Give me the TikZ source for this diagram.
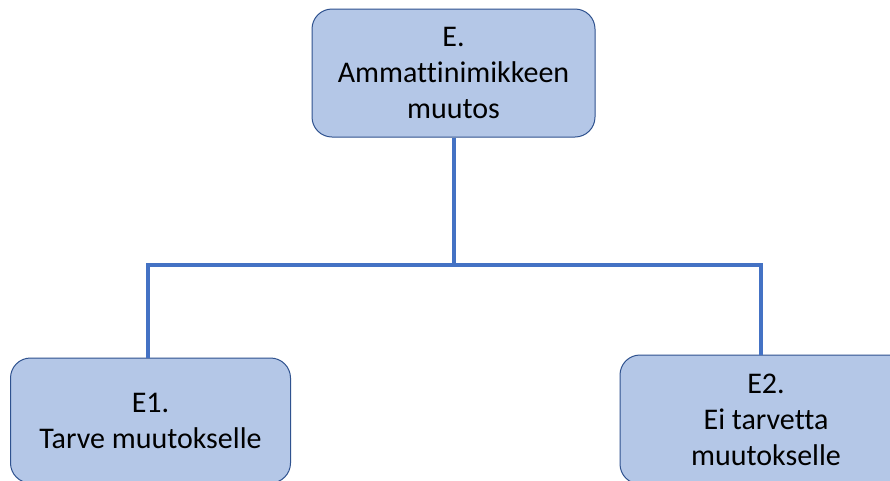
\documentclass[tikz,border=0pt]{standalone}
\usepackage{fontspec}
\setmainfont{Carlito}[Ligatures=NoCommon]
\definecolor{boxfill}{HTML}{B4C7E7}
\definecolor{boxline}{HTML}{2F528F}
\definecolor{conn}{HTML}{4472C4}
\begin{document}
\begin{tikzpicture}[x=1pt,y=-1pt,
  boxnode/.style={draw=boxline,line width=1pt,fill=boxfill,rounded corners=20pt,
    align=center,inner sep=0pt,
    font=\fontsize{30}{36}\selectfont},
  connline/.style={draw=conn,line width=4pt,line join=miter}]
\useasboundingbox (0,0) rectangle (890,480);
\clip (0,0) rectangle (890,480);
\fill[white] (0,0) rectangle (890,480);
\node[boxnode,minimum width=283pt,minimum height=128pt] (top) at (453.5,73) {E.\\Ammattinimikkeen\\muutos};
\node[boxnode,minimum width=280pt,minimum height=125pt] (e1) at (150.5,420.5) {E1.\\Tarve muutokselle};
\node[boxnode,minimum width=292pt,minimum height=129pt] (e2) at (766,419.5) {E2.\\Ei tarvetta\\muutokselle};
\coordinate (l) at (148,265);
\coordinate (r) at (761,265);
\draw[connline] (top.south) -- (top.south |- l);
\draw[connline] (l |- e1.north) -- (l) -- (r) -- (r |- e2.north);
\end{tikzpicture}
\end{document}
